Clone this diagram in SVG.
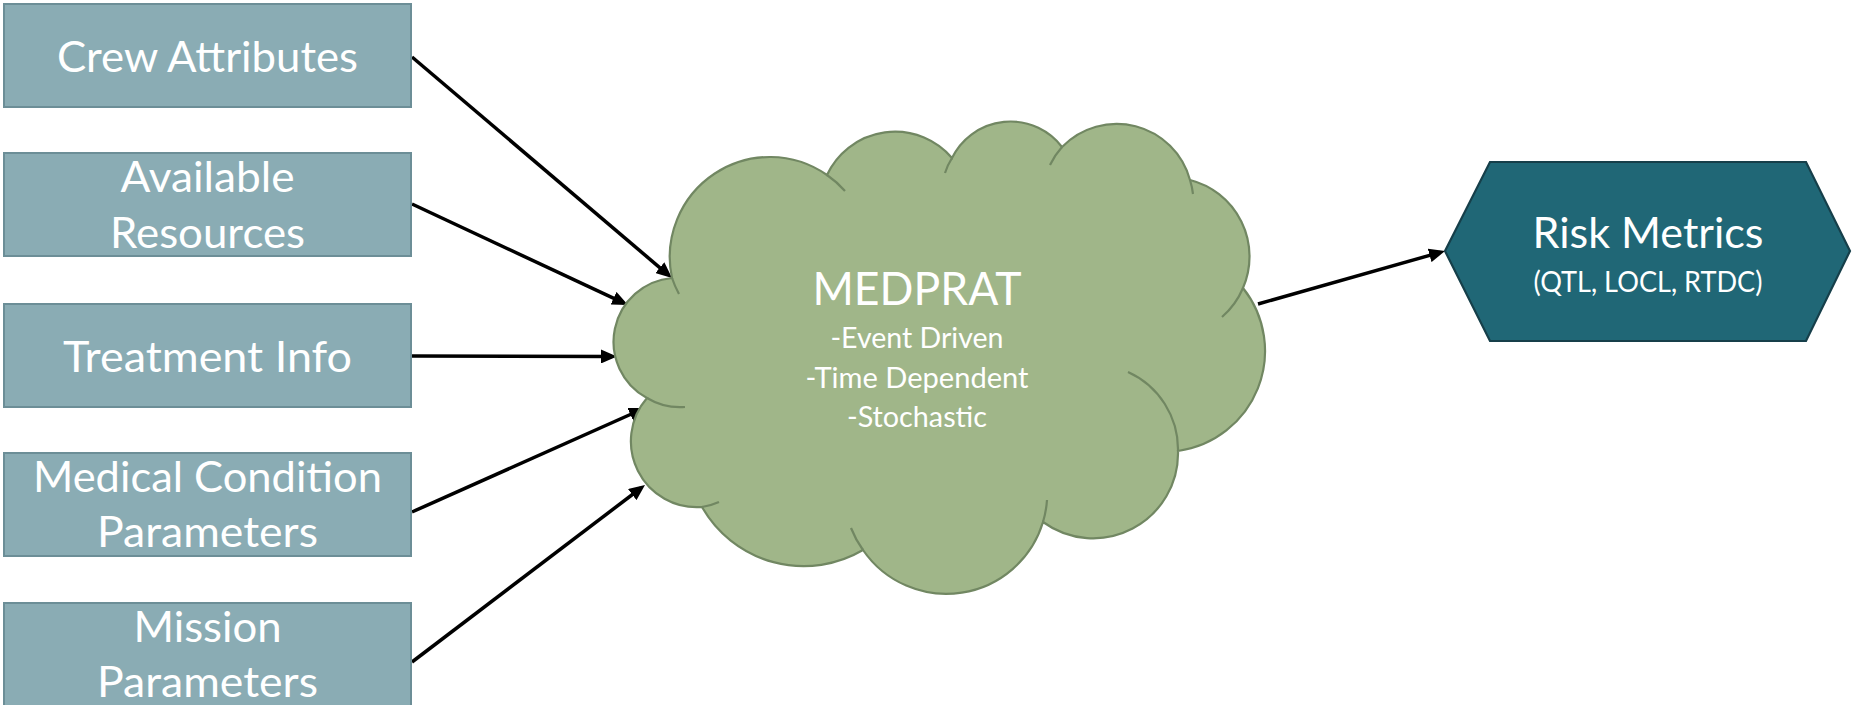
<svg xmlns="http://www.w3.org/2000/svg" width="1852" height="705" viewBox="0 0 1852 705">
<style>
.box{fill:#8AACB4;stroke:#6C8E97;stroke-width:2}
.cloud{fill:#A0B689;stroke:#718762;stroke-width:2.2}
.inner{fill:none;stroke:#718762;stroke-width:2.2}
.hex{fill:#206776;stroke:#163F4A;stroke-width:2.2}
.t{font-family:Lato,"Open Sans","Liberation Sans",sans-serif;fill:#FFFFFF;text-anchor:middle}
.big{font-size:42px}
.small{font-size:28.5px}
.conn{stroke:#000;stroke-width:3.5;fill:none;marker-end:url(#ah)}
</style>
<defs>
<marker id="ah" markerUnits="userSpaceOnUse" markerWidth="17" markerHeight="14" refX="11" refY="7" orient="auto">
<path d="M0,0 L16,7 L0,14 Z" fill="#000"/>
</marker>
</defs>
<g id="connectors">
<line class="conn" x1="412" y1="57" x2="668.2" y2="274.8"/>
<line class="conn" x1="412" y1="204" x2="623.5" y2="302.9"/>
<line class="conn" x1="412" y1="356" x2="612" y2="356.5"/>
<line class="conn" x1="412" y1="512" x2="640.4" y2="410"/>
<line class="conn" x1="412" y1="662" x2="641" y2="488"/>
<line class="conn" x1="1258" y1="304" x2="1440.2" y2="252.4"/>
</g>
<g id="crew-attributes">
<rect class="box" x="4" y="4" width="407" height="103"/>
<text class="t big" x="207.5" y="72" textLength="301" lengthAdjust="spacingAndGlyphs">Crew Attributes</text>
</g>
<g id="available-resources">
<rect class="box" x="4" y="153" width="407" height="103"/>
<text class="t big" x="207.5" y="192" textLength="174" lengthAdjust="spacingAndGlyphs">Available</text>
<text class="t big" x="207.5" y="248" textLength="195" lengthAdjust="spacingAndGlyphs">Resources</text>
</g>
<g id="treatment-info">
<rect class="box" x="4" y="304" width="407" height="103"/>
<text class="t big" x="207.5" y="372" textLength="289" lengthAdjust="spacingAndGlyphs">Treatment Info</text>
</g>
<g id="medical-condition-parameters">
<rect class="box" x="4" y="453" width="407" height="103"/>
<text class="t big" x="207.5" y="492" textLength="349" lengthAdjust="spacingAndGlyphs">Medical Condition</text>
<text class="t big" x="207.5" y="547" textLength="221" lengthAdjust="spacingAndGlyphs">Parameters</text>
</g>
<g id="mission-parameters">
<rect class="box" x="4" y="603" width="407" height="110"/>
<text class="t big" x="207.5" y="642" textLength="148" lengthAdjust="spacingAndGlyphs">Mission</text>
<text class="t big" x="207.5" y="697" textLength="221" lengthAdjust="spacingAndGlyphs">Parameters</text>
</g>
<g id="medprat">
<path class="cloud" d="M672,278 A100,100 0 0 1 827,175 A75,75 0 0 1 952,158 A65,65 0 0 1 1062,147 A76,76 0 0 1 1190,180 A79,79 0 0 1 1243,288 A101,101 0 0 1 1178,451 A85,85 0 0 1 1043,522 A101,101 0 0 1 863,550 A117,117 0 0 1 702,507 A66,66 0 0 1 647,398 A64,64 0 0 1 672,278 Z"/>
<path class="inner" d="M672,278 A100,100 0 0 0 679,294 M827,175 A100,100 0 0 1 845,191 M952,158 A65,65 0 0 0 945,173 M1062,147 A76,76 0 0 0 1050,165 M1190,180 A76,76 0 0 1 1193,194 M1243,288 A79,79 0 0 1 1222,317 M1178,451 A85,85 0 0 0 1128,372 M1043,522 A101,101 0 0 0 1047,500 M863,550 A101,101 0 0 1 851,528 M702,507 A66,66 0 0 0 719,502 M647,398 A64,64 0 0 0 685,407"/>
<text class="t" x="917" y="305" font-size="46" textLength="209" lengthAdjust="spacingAndGlyphs">MEDPRAT</text>
<text class="t small" x="917" y="348" textLength="173" lengthAdjust="spacingAndGlyphs">-Event Driven</text>
<text class="t small" x="917" y="388" textLength="223" lengthAdjust="spacingAndGlyphs">-Time Dependent</text>
<text class="t small" x="917" y="427" textLength="140" lengthAdjust="spacingAndGlyphs">-Stochastic</text>
</g>
<g id="risk-metrics">
<polygon class="hex" points="1445,251 1490,162 1806,162 1850,251 1806,341 1490,341"/>
<text class="t big" x="1648" y="248" textLength="231" lengthAdjust="spacingAndGlyphs">Risk Metrics</text>
<text class="t small" x="1648" y="292" textLength="229" lengthAdjust="spacingAndGlyphs">(QTL, LOCL, RTDC)</text>
</g>
</svg>
